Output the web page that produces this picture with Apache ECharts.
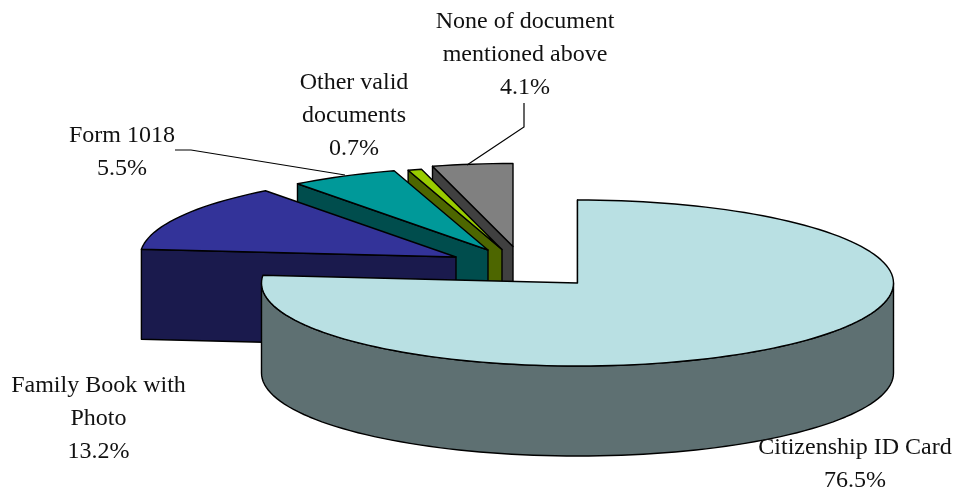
<!DOCTYPE html>
<html><head><meta charset="utf-8">
<style>html,body{margin:0;background:#fff}#c{width:957px;height:490px}</style>
<script src="https://cdn.jsdelivr.net/npm/echarts@6/dist/echarts.min.js"></script>
</head><body><div id="c"></div>
<script>
const categories = ['Citizenship ID Card','Family Book with\nPhoto','Form 1018','Other valid\ndocuments','None of document\nmentioned above'];
const shares = [76.5,13.2,5.5,0.7,4.1];
const topColors = ['#B9E0E3','#333399','#009999','#99CC00','#808080'];
const sideColors = ['#5E7072','#1A1A4D','#004D4D','#4D6600','#404040'];
const tipX = [577.5,456,488,502,513];
const tipY = [283,257,250,249.5,246.5];
const labelX = [855,98.5,122,354,525];
const labelY = [431,369,119,66.5,5.5];
const leaders = [null,null,[[175,150],[191,150],[345,175]],null,[[524,103],[524,127],[467,165]]];
const RX=316, RY=83, DEPTH=90;
const total = shares.reduce((a,b)=>a+b,0);
const FONT='24px "Liberation Serif"';

function pt(i,deg,dy){const r=deg*Math.PI/180;
  return [tipX[i]+RX*Math.sin(r), tipY[i]-RY*Math.cos(r)+(dy||0)];}
function arc(i,a,b,dy){const n=Math.max(2,Math.ceil(Math.abs(b-a)/2)),o=[];
  for(let k=0;k<=n;k++)o.push(pt(i,a+(b-a)*k/n,dy));return o;}

function renderItem(params,api){
  const i=params.dataIndex, v=api.value(0);
  let start=0; for(let k=0;k<i;k++)start+=shares[k];
  const a=start/total*360, b=(start+v)/total*360;
  const z=(categories.length-i)*10;
  const edge={stroke:'#000',lineWidth:1.4,lineJoin:'round'};
  const ch=[];
  const tip=[tipX[i],tipY[i]];
  const s=pt(i,a);
  ch.push({type:'polygon',z2:z,shape:{points:[tip,s,[s[0],s[1]+DEPTH],[tip[0],tip[1]+DEPTH]]},
    style:Object.assign({fill:sideColors[i]},edge)});
  const fa=Math.max(a,90), fb=Math.min(b,270);
  if(fb>fa){
    ch.push({type:'polygon',z2:z+1,shape:{points:arc(i,fa,fb,0).concat(arc(i,fb,fa,DEPTH))},
      style:Object.assign({fill:sideColors[i]},edge)});
  }
  ch.push({type:'polygon',z2:z+2,shape:{points:[tip].concat(arc(i,a,b,0))},
    style:Object.assign({fill:topColors[i]},edge)});
  if(leaders[i]) ch.push({type:'polyline',z2:200,shape:{points:leaders[i]},
    style:{stroke:'#000',lineWidth:1.2,fill:null}});
  ch.push({type:'text',z2:201,x:labelX[i],y:labelY[i],
    style:{text:categories[i]+'\n'+v+'%',fill:'#111',font:FONT,lineHeight:33,align:'center',verticalAlign:'top'}});
  return {type:'group',children:ch};
}
const chart=echarts.init(document.getElementById('c'),null,{renderer:'canvas'});
chart.setOption({animation:false,backgroundColor:'#fff',
  series:[{type:'custom',coordinateSystem:'none',renderItem,data:shares.map(v=>[v]),silent:true}]});
</script></body></html>
